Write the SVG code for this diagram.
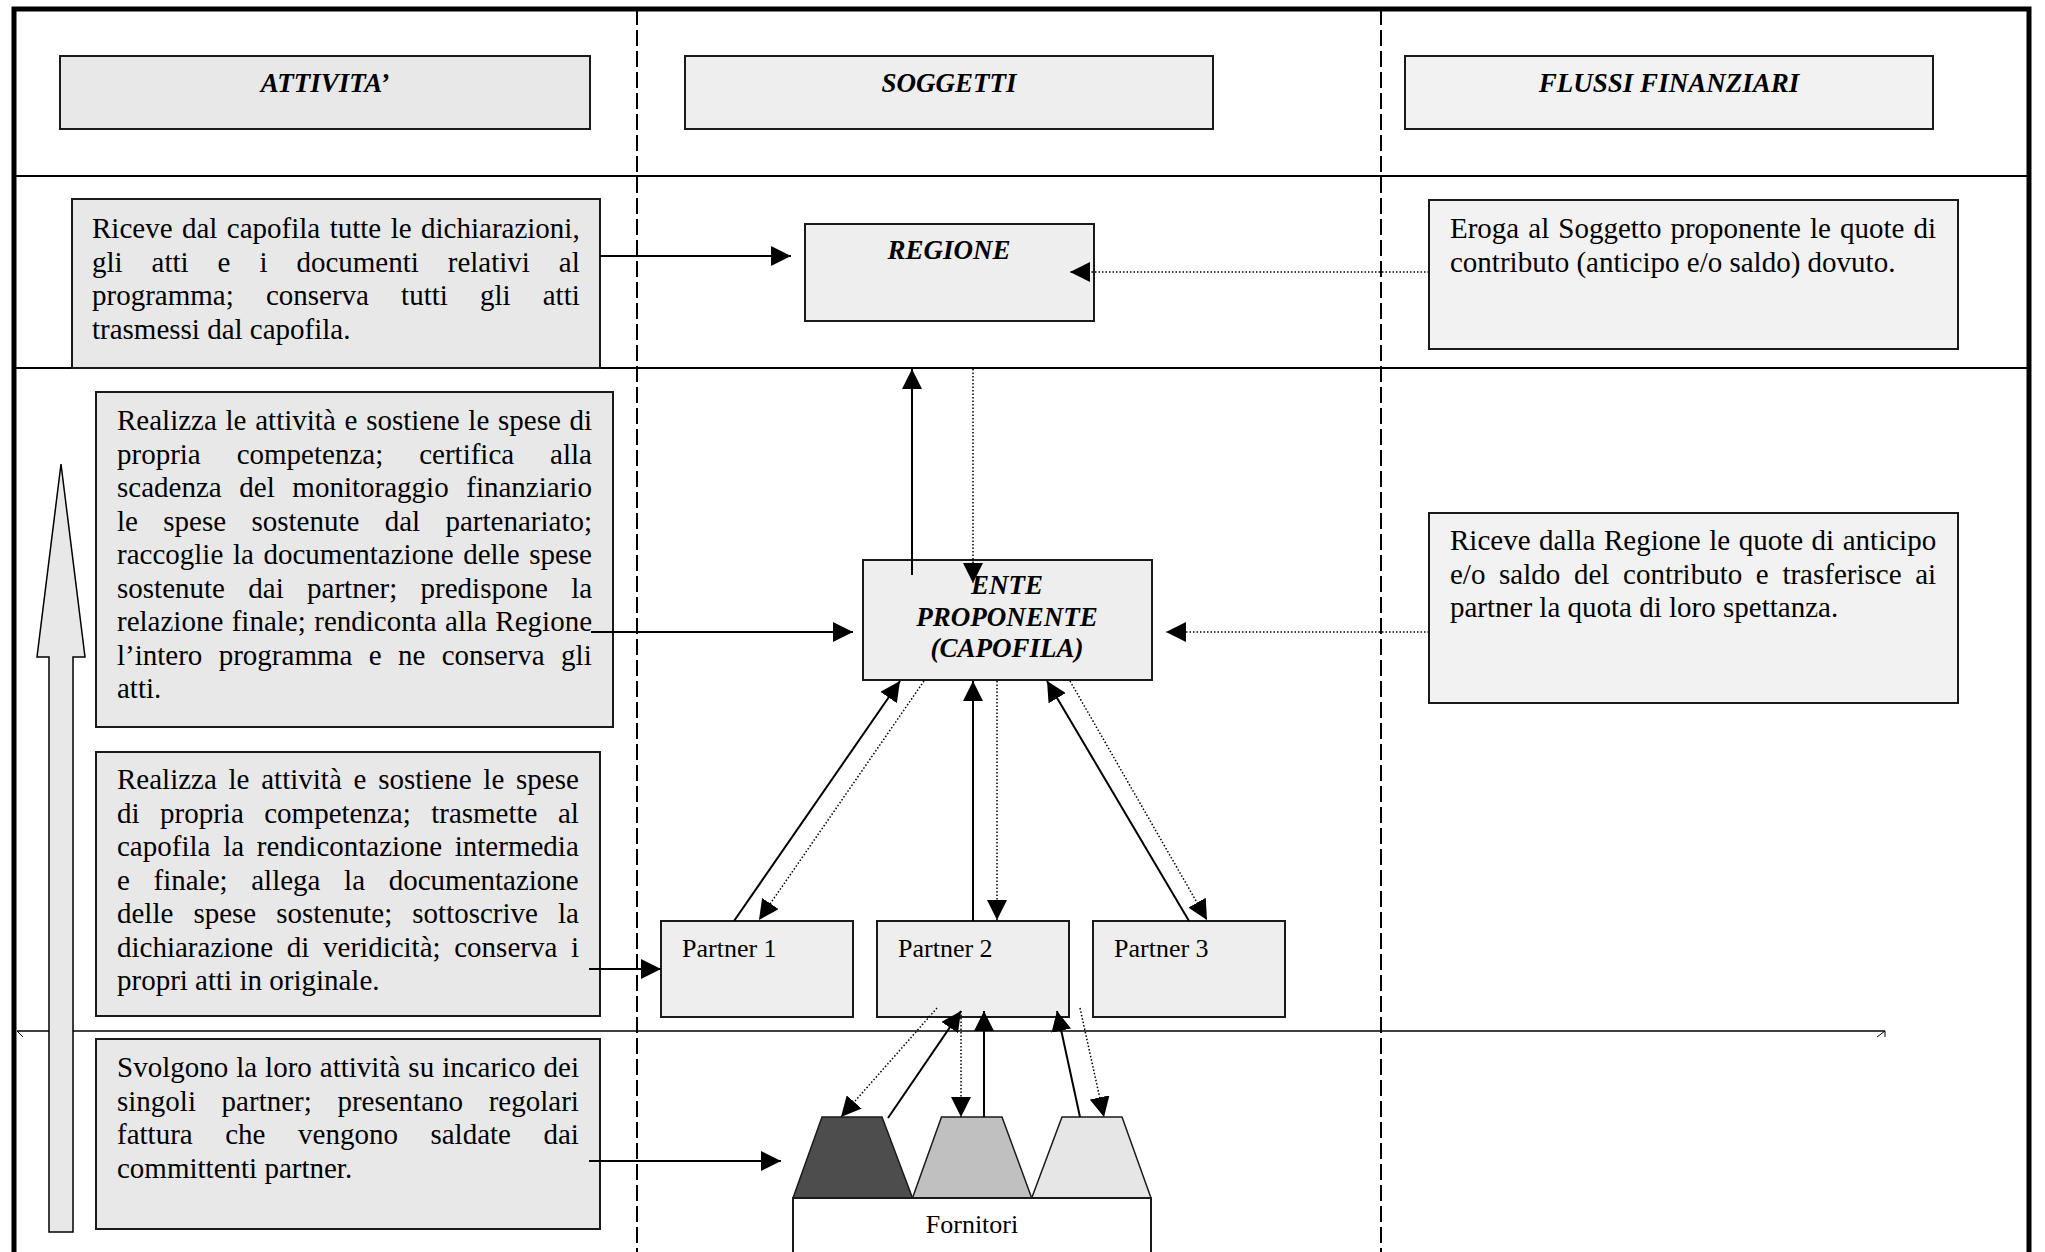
<svg xmlns="http://www.w3.org/2000/svg" width="2045" height="1252" viewBox="0 0 2045 1252">
<defs>
<style>
.txt{font-family:"Liberation Serif","Times New Roman",serif;font-size:29px;fill:#000}
.lbl{font-family:"Liberation Serif","Times New Roman",serif;font-size:26px;fill:#000}
.hdr{font-family:"Liberation Serif","Times New Roman",serif;font-size:27px;font-weight:bold;font-style:italic;fill:#000;text-anchor:middle}
.box{stroke:#1a1a1a;stroke-width:2}
.sol{stroke:#000;stroke-width:2;fill:none;marker-end:url(#ah)}
.dot{stroke:#000;stroke-width:1.5;stroke-dasharray:1.5 2;fill:none;marker-end:url(#ah)}
.sep{stroke:#000;stroke-width:2;fill:none}
.dash{stroke:#000;stroke-width:2;stroke-dasharray:16 5;fill:none}
.frm{stroke:#000;stroke-width:5;fill:none}
</style>
<marker id="ah" markerUnits="userSpaceOnUse" markerWidth="20" markerHeight="20" viewBox="0 0 20 20" refX="20" refY="10" orient="auto">
<path d="M0,0 L20,10 L0,20 z" fill="#000"/>
</marker>
</defs>
<rect width="2045" height="1252" fill="#fff"/>

<g id="grid">
<line class="dash" x1="637" y1="9" x2="637" y2="1252"/>
<line class="dash" x1="1381" y1="9" x2="1381" y2="1252"/>
<line class="sep" x1="14" y1="176" x2="2029" y2="176"/>
<line class="sep" x1="14" y1="368" x2="2029" y2="368"/>
<line stroke="#000" stroke-width="1.5" x1="17" y1="1031" x2="1885" y2="1031"/>
<path d="M17,1031 L23,1037 M1885,1031 L1885,1037 M1885,1031 L1877,1037" stroke="#000" stroke-width="1" fill="none"/>
<polyline class="frm" points="14,1252 14,9 2029,9 2029,1252"/>
</g>

<g id="header-attivita">
<rect class="box" x="60" y="56" width="530" height="73" fill="#e8e8e8"/>
<text class="hdr" x="325" y="92">ATTIVITA’</text>
</g>
<g id="header-soggetti">
<rect class="box" x="685" y="56" width="528" height="73" fill="#eeeeee"/>
<text class="hdr" x="949" y="92">SOGGETTI</text>
</g>
<g id="header-flussi">
<rect class="box" x="1405" y="56" width="528" height="73" fill="#f2f2f2"/>
<text class="hdr" x="1669" y="92">FLUSSI FINANZIARI</text>
</g>

<g id="att-regione">
<rect class="box" x="72" y="199" width="528" height="169" fill="#e8e8e8"/>
<text class="txt" x="92" y="238" word-spacing="2.2">Riceve dal capofila tutte le dichiarazioni,</text>
<text class="txt" x="92" y="271.5" word-spacing="21.7">gli atti e i documenti relativi al</text>
<text class="txt" x="92" y="305" word-spacing="24.9">programma; conserva tutti gli atti</text>
<text class="txt" x="92" y="338.5">trasmessi dal capofila.</text>
</g>

<g id="att-capofila">
<rect class="box" x="96" y="392" width="517" height="335" fill="#e8e8e8"/>
<text class="txt" x="117" y="430" word-spacing="1.5">Realizza le attività e sostiene le spese di</text>
<text class="txt" x="117" y="463.5" word-spacing="28.7">propria competenza; certifica alla</text>
<text class="txt" x="117" y="497" word-spacing="10.4">scadenza del monitoraggio finanziario</text>
<text class="txt" x="117" y="530.5" word-spacing="18.1">le spese sostenute dal partenariato;</text>
<text class="txt" x="117" y="564" word-spacing="2.4">raccoglie la documentazione delle spese</text>
<text class="txt" x="117" y="597.5" word-spacing="16.1">sostenute dai partner; predispone la</text>
<text class="txt" x="117" y="631" word-spacing="1.2">relazione finale; rendiconta alla Regione</text>
<text class="txt" x="117" y="664.5" word-spacing="9.1">l’intero programma e ne conserva gli</text>
<text class="txt" x="117" y="698">atti.</text>
</g>

<g id="att-partner">
<rect class="box" x="96" y="752" width="504" height="264" fill="#e8e8e8"/>
<text class="txt" x="117" y="789" word-spacing="4.5">Realizza le attività e sostiene le spese</text>
<text class="txt" x="117" y="822.5" word-spacing="13.2">di propria competenza; trasmette al</text>
<text class="txt" x="117" y="856" word-spacing="5.5">capofila la rendicontazione intermedia</text>
<text class="txt" x="117" y="889.5" word-spacing="16.4">e finale; allega la documentazione</text>
<text class="txt" x="117" y="923" word-spacing="12.8">delle spese sostenute; sottoscrive la</text>
<text class="txt" x="117" y="956.5" word-spacing="6.4">dichiarazione di veridicità; conserva i</text>
<text class="txt" x="117" y="990">propri atti in originale.</text>
</g>

<g id="att-fornitori">
<rect class="box" x="96" y="1039" width="504" height="190" fill="#e8e8e8"/>
<text class="txt" x="117" y="1077" word-spacing="0.75">Svolgono la loro attività su incarico dei</text>
<text class="txt" x="117" y="1110.5" word-spacing="18.4">singoli partner; presentano regolari</text>
<text class="txt" x="117" y="1144" word-spacing="25.3">fattura che vengono saldate dai</text>
<text class="txt" x="117" y="1177.5">committenti partner.</text>
</g>

<g id="fin-regione">
<rect class="box" x="1429" y="200" width="529" height="149" fill="#f2f2f2"/>
<text class="txt" x="1450" y="238" word-spacing="1.8">Eroga al Soggetto proponente le quote di</text>
<text class="txt" x="1450" y="271.5">contributo (anticipo e/o saldo) dovuto.</text>
</g>

<g id="fin-capofila">
<rect class="box" x="1429" y="513" width="529" height="190" fill="#f2f2f2"/>
<text class="txt" x="1450" y="550" word-spacing="1.3">Riceve dalla Regione le quote di anticipo</text>
<text class="txt" x="1450" y="583.5" word-spacing="6.4">e/o saldo del contributo e trasferisce ai</text>
<text class="txt" x="1450" y="617">partner la quota di loro spettanza.</text>
</g>

<g id="node-regione">
<rect class="box" x="805" y="224" width="289" height="97" fill="#eeeeee"/>
<text class="hdr" x="949" y="259">REGIONE</text>
</g>

<g id="node-ente">
<rect class="box" x="863" y="560" width="289" height="120" fill="#eeeeee"/>
<text class="hdr" x="1007" y="594">ENTE</text>
<text class="hdr" x="1007" y="626">PROPONENTE</text>
<text class="hdr" x="1007" y="657">(CAPOFILA)</text>
</g>

<g id="partner-1">
<rect class="box" x="661" y="921" width="192" height="96" fill="#eeeeee"/>
<text class="lbl" x="682" y="957">Partner 1</text>
</g>
<g id="partner-2">
<rect class="box" x="877" y="921" width="192" height="96" fill="#eeeeee"/>
<text class="lbl" x="898" y="957">Partner 2</text>
</g>
<g id="partner-3">
<rect class="box" x="1093" y="921" width="192" height="96" fill="#eeeeee"/>
<text class="lbl" x="1114" y="957">Partner 3</text>
</g>

<g id="fornitori">
<polygon points="822,1117 882,1117 912.5,1198 793,1198" fill="#4d4d4d" stroke="#1a1a1a" stroke-width="1.5"/>
<polygon points="941.5,1117 1002,1117 1031.7,1198 912.5,1198" fill="#c0c0c0" stroke="#1a1a1a" stroke-width="1.5"/>
<polygon points="1062,1117 1122,1117 1151,1198 1031.7,1198" fill="#e6e6e6" stroke="#1a1a1a" stroke-width="1.5"/>
<rect class="box" x="793" y="1198" width="358" height="70" fill="#ffffff"/>
<text class="lbl" x="972" y="1233" text-anchor="middle">Fornitori</text>
</g>

<g id="connectors">
<line class="sol" x1="600" y1="256" x2="791" y2="256"/>
<line class="dot" x1="1429" y1="272" x2="1070" y2="272"/>
<line class="sol" x1="912" y1="575" x2="912" y2="369"/>
<line class="dot" x1="973" y1="369" x2="973" y2="583"/>
<line class="sol" x1="591" y1="632" x2="853" y2="632"/>
<line class="dot" x1="1429" y1="632" x2="1166" y2="632"/>
<line class="sol" x1="734" y1="921" x2="900" y2="681"/>
<line class="dot" x1="924" y1="681" x2="759" y2="920"/>
<line class="sol" x1="973" y1="921" x2="973" y2="681"/>
<line class="dot" x1="997" y1="681" x2="997" y2="920"/>
<line class="sol" x1="1189" y1="921" x2="1047" y2="681"/>
<line class="dot" x1="1070" y1="681" x2="1207" y2="920"/>
<line class="dot" x1="937" y1="1008" x2="841" y2="1117"/>
<line class="sol" x1="888" y1="1118" x2="961" y2="1011"/>
<line class="dot" x1="961" y1="1011" x2="961" y2="1117"/>
<line class="sol" x1="984" y1="1117" x2="984" y2="1011"/>
<line class="sol" x1="1080" y1="1117" x2="1057" y2="1011"/>
<line class="dot" x1="1080" y1="1008" x2="1104" y2="1117"/>
<line class="sol" x1="589" y1="969" x2="661" y2="969"/>
<line class="sol" x1="589" y1="1161" x2="781" y2="1161"/>
</g>

<g id="up-arrow">
<polygon points="61,464 85,657 73,657 73,1232 49,1232 49,657 37,657" fill="#e8e8e8" stroke="#000" stroke-width="1.5"/>
</g>
</svg>
